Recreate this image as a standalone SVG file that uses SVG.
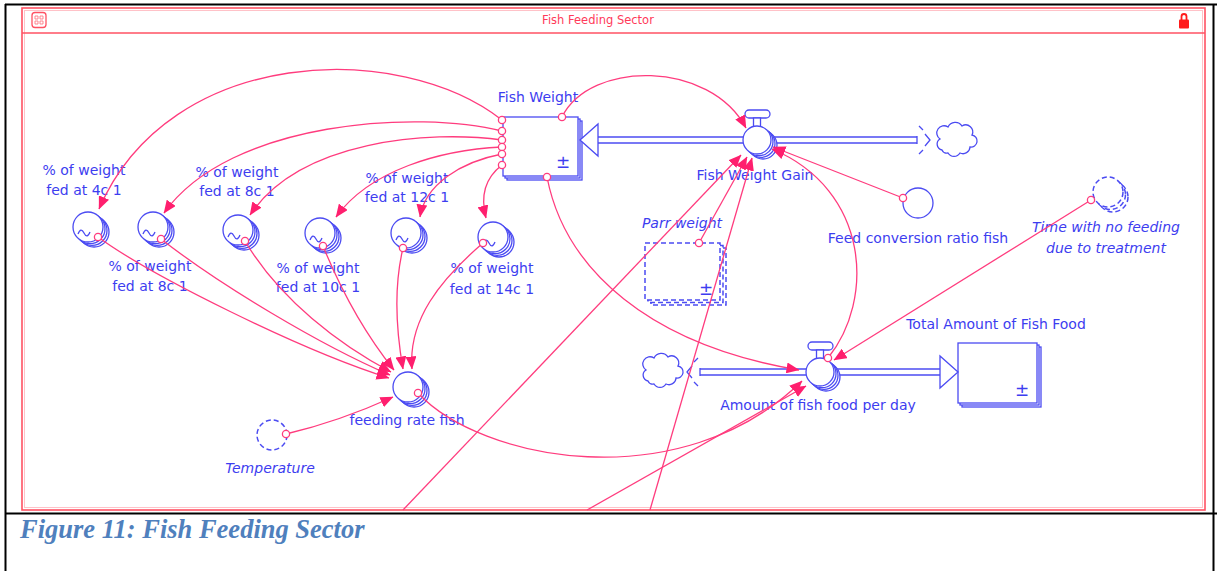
<svg xmlns="http://www.w3.org/2000/svg" xmlns:xlink="http://www.w3.org/1999/xlink" width="1217" height="571" viewBox="0 0 1217 571">
  <style>
    .lbl { font-family: "DejaVu Sans", "Liberation Sans", sans-serif; font-size: 14px; fill: #3d3df0; text-anchor: middle; }
    .it { font-style: italic; }
    .pm { font-family: "DejaVu Sans", sans-serif; font-size: 17px; fill: #3d3df0; text-anchor: middle; }
    .node { fill: #fff; stroke: #4b4bf2; stroke-width: 1.3; }
    .ghost { fill: #fff; stroke: #4b4bf2; stroke-width: 1.5; stroke-dasharray: 5 3; }
    .pipeO { fill: none; stroke: #4b4bf2; stroke-width: 7.5; }
    .pipeI { fill: none; stroke: #fff; stroke-width: 4.5; }
    .mark { fill: none; stroke: #4b4bf2; stroke-width: 1.3; }
    .link { fill: none; stroke: #ff3c7e; stroke-width: 1.3; }
    .arr { marker-end: url(#ah); }
    .org { fill: #fff; stroke: #ff3c7e; stroke-width: 1.3; }
    .frame { fill: none; stroke: #ff5263; stroke-width: 1.6; }
    .edge { fill: none; stroke: #000; stroke-width: 2; }
  </style>
  <defs>
    <marker id="ah" viewBox="0 0 13 11" refX="12.5" refY="5.5" markerWidth="13" markerHeight="11" markerUnits="userSpaceOnUse" orient="auto">
      <path d="M0,0 L13,5.5 L0,11 z" fill="#ff1f6e"/>
    </marker>
    <!-- converter array with graphical function wave -->
    <g id="convGf">
      <circle cx="6" cy="5" r="15" class="node"/>
      <circle cx="4" cy="3.4" r="15" class="node"/>
      <circle cx="2" cy="1.7" r="15" class="node"/>
      <circle cx="0" cy="0" r="15" class="node"/>
      <path d="M-10,7 c2,-5 4,-5 6,-1 s4,4 6,-1" class="mark"/>
    </g>
    <!-- plain converter array -->
    <g id="convArr">
      <circle cx="6" cy="5" r="15" class="node"/>
      <circle cx="4" cy="3.4" r="15" class="node"/>
      <circle cx="2" cy="1.7" r="15" class="node"/>
      <circle cx="0" cy="0" r="15" class="node"/>
    </g>
    <!-- flow valve with stacked body -->
    <g id="valve">
      <rect x="-12" y="-30" width="25" height="8" rx="4" class="node"/>
      <rect x="-3.5" y="-22" width="7" height="9" class="node"/>
      <circle cx="6" cy="5" r="14" class="node"/>
      <circle cx="4" cy="3.4" r="14" class="node"/>
      <circle cx="2" cy="1.7" r="14" class="node"/>
      <circle cx="0" cy="0" r="14" class="node"/>
    </g>
    <!-- cloud (source / sink) -->
    <path id="cloud" d="M-14,11 a6,6 0 0 1 -2,-11 a7,7 0 0 1 8,-12 a8,8 0 0 1 14,-1 a7,7 0 0 1 10,9 a6,6 0 0 1 -2,12 a7,7 0 0 1 -10,6 a7,7 0 0 1 -12,0 a5,5 0 0 1 -6,-3 z" class="node"/>
  </defs>

  <rect width="1217" height="571" fill="#fff"/>

  <!-- page border -->
  <path d="M5,4.5 H1217 M5.5,4 V571 M1213.5,4 V571 M5,513.5 H1217" class="edge"/>

  <!-- sector frame -->
  <g id="sector">
    <rect x="22" y="8" width="1183" height="502" class="frame"/>
    <rect x="24.5" y="10.5" width="1178" height="497" fill="none" stroke="#ffc2c8" stroke-width="1"/>
    <line x1="22" y1="33" x2="1205" y2="33" stroke="#ff5263" stroke-width="1.4"/>
    <rect x="32" y="12.5" width="14" height="15" rx="3" fill="none" stroke="#ff5263" stroke-width="1.3"/>
    <path d="M35,16 h3 v3 h-3 z M40,16 h3 v3 h-3 z M35,21 h3 v3 h-3 z M40,21 h3 v3 h-3 z" fill="none" stroke="#ff7a86" stroke-width="0.9"/>
    <text x="598" y="24" font-family="DejaVu Sans, sans-serif" font-size="11.5" fill="#ff3a5a" text-anchor="middle">Fish Feeding Sector</text>
    <path d="M1181.5,20 v-3.5 a2.5,2.5 0 0 1 5,0 v3.5" fill="none" stroke="#ff1a1a" stroke-width="1.8"/>
    <rect x="1179" y="19.5" width="10" height="9" rx="1" fill="#ff1a1a"/>
  </g>

  <!-- flow pipes -->
  <g id="pipes">
    <path d="M597,140 H917" class="pipeO"/>
    <path d="M597,140 H917" class="pipeI"/>
    <path d="M917,136 V144" class="mark"/>
    <path d="M919,126 l4,4 M925,134 l5,6 l-5,6 M919,154 l4,-4" class="mark"/>
    <path d="M700,372 H941" class="pipeO"/>
    <path d="M700,372 H941" class="pipeI"/>
    <path d="M700,368 V376" class="mark"/>
    <path d="M698,358 l-4,4 M692,366 l-5,6 l5,6 M698,386 l-4,-4" class="mark"/>
  </g>

  <g id="fish-weight">
    <rect x="507" y="121" width="75" height="59" class="node"/>
    <rect x="505" y="119" width="75" height="59" class="node"/>
    <rect x="503" y="117" width="75" height="59" class="node"/>
    <text x="563" y="168" class="pm">±</text>
    <text x="538" y="102" class="lbl">Fish Weight</text>
  </g>

  <g id="fish-weight-gain">
    <polygon points="580,140 598,124 598,156" class="node"/>
    <use xlink:href="#cloud" x="956" y="139"/>
    <use xlink:href="#valve" x="757" y="140"/>
    <text x="755" y="180" class="lbl">Fish Weight Gain</text>
  </g>

  <g id="feed-conversion-ratio">
    <circle cx="918" cy="203" r="15" class="node"/>
    <text x="918" y="243" class="lbl">Feed conversion ratio fish</text>
  </g>

  <g id="parr-weight">
    <rect x="651" y="248" width="75" height="57" class="ghost"/>
    <rect x="648" y="245.5" width="75" height="57" class="ghost"/>
    <rect x="645" y="243" width="75" height="57" class="ghost"/>
    <text x="706" y="295" class="pm">±</text>
    <text x="682" y="228" class="lbl it">Parr weight</text>
  </g>

  <g id="time-no-feeding">
    <circle cx="1113" cy="197" r="15" class="ghost"/>
    <circle cx="1110.5" cy="194.5" r="15" class="ghost"/>
    <circle cx="1108" cy="192" r="15" class="ghost"/>
    <text x="1106" y="232" class="lbl it">Time with no feeding</text>
    <text x="1106" y="253" class="lbl it">due to treatment</text>
  </g>

  <g id="total-fish-food">
    <rect x="962" y="347" width="79" height="60" class="node"/>
    <rect x="960" y="345" width="79" height="60" class="node"/>
    <rect x="958" y="343" width="79" height="60" class="node"/>
    <text x="1022" y="396" class="pm">±</text>
    <text x="996" y="329" class="lbl">Total Amount of Fish Food</text>
  </g>

  <g id="fish-food-per-day">
    <polygon points="958,372 940,356 940,388" class="node"/>
    <use xlink:href="#cloud" x="662" y="370"/>
    <use xlink:href="#valve" x="820" y="372"/>
    <text x="818" y="410" class="lbl">Amount of fish food per day</text>
  </g>

  <g id="fed-4c">
    <use xlink:href="#convGf" x="88" y="227"/>
    <text x="84" y="175" class="lbl">% of weight</text>
    <text x="84" y="195" class="lbl">fed at 4c 1</text>
  </g>
  <g id="fed-8c-low">
    <use xlink:href="#convGf" x="153" y="227"/>
    <text x="150" y="271" class="lbl">% of weight</text>
    <text x="150" y="291" class="lbl">fed at 8c 1</text>
  </g>
  <g id="fed-8c">
    <use xlink:href="#convGf" x="238" y="230"/>
    <text x="237" y="177" class="lbl">% of weight</text>
    <text x="237" y="196" class="lbl">fed at 8c 1</text>
  </g>
  <g id="fed-10c">
    <use xlink:href="#convGf" x="320" y="233"/>
    <text x="318" y="273" class="lbl">% of weight</text>
    <text x="318" y="292" class="lbl">fed at 10c 1</text>
  </g>
  <g id="fed-12c">
    <use xlink:href="#convGf" x="406" y="233"/>
    <text x="407" y="183" class="lbl">% of weight</text>
    <text x="407" y="202" class="lbl">fed at 12c 1</text>
  </g>
  <g id="fed-14c">
    <use xlink:href="#convGf" x="493" y="237"/>
    <text x="492" y="273" class="lbl">% of weight</text>
    <text x="492" y="294" class="lbl">fed at 14c 1</text>
  </g>

  <g id="feeding-rate">
    <use xlink:href="#convArr" x="408" y="387"/>
    <text x="407" y="425" class="lbl">feeding rate fish</text>
  </g>

  <g id="temperature">
    <circle cx="272" cy="435" r="15" class="ghost"/>
    <text x="270" y="473" class="lbl it">Temperature</text>
  </g>

  <!-- connectors -->
  <g id="connectors">
    <!-- Fish Weight to the feeding percentage tables -->
    <path d="M502,120 C400,40 170,45 99,209" class="link arr"/>
    <path d="M502,131 C420,110 230,120 164,213" class="link arr"/>
    <path d="M502,140 C430,130 300,140 250,215" class="link arr"/>
    <path d="M502,147 C440,150 370,170 336,217" class="link arr"/>
    <path d="M502,154 C460,162 425,185 420,217" class="link arr"/>
    <path d="M502,165 C485,178 480,195 486,218" class="link arr"/>
    <!-- Fish Weight to the flows -->
    <path d="M562,117 C590,60 710,60 746,128" class="link arr"/>
    <path d="M547,177 C565,270 650,345 799,370" class="link arr"/>
    <!-- tables to feeding rate -->
    <path d="M98,237 C150,275 300,350 389,378" class="link arr"/>
    <path d="M161,239 C220,285 320,345 390,375" class="link arr"/>
    <path d="M245,241 C280,300 340,345 391,372" class="link arr"/>
    <path d="M323,246 C345,300 370,340 394,370" class="link arr"/>
    <path d="M403,248 C393,290 397,335 403,369" class="link arr"/>
    <path d="M483,243 C440,280 408,320 412,369" class="link arr"/>
    <path d="M286,434 C320,426 360,412 393,397" class="link arr"/>
    <!-- feeding rate to daily food amount -->
    <path d="M418,393 C480,460 680,500 802,381" class="link arr"/>
    <path d="M587,510 L806,386" class="link arr"/>
    <!-- inputs to Fish Weight Gain -->
    <path d="M403,510 L741,155" class="link arr"/>
    <path d="M699,243 L747,157" class="link arr"/>
    <path d="M650,510 L752,158" class="link arr"/>
    <path d="M903,198 L773,147" class="link arr"/>
    <path d="M828,358 C875,300 870,190 772,149" class="link arr"/>
    <path d="M1091,200 L834,360" class="link arr"/>
    <!-- link origins -->
    <circle cx="502" cy="120" r="3.6" class="org"/>
    <circle cx="502" cy="131" r="3.6" class="org"/>
    <circle cx="502" cy="140" r="3.6" class="org"/>
    <circle cx="502" cy="147" r="3.6" class="org"/>
    <circle cx="502" cy="154" r="3.6" class="org"/>
    <circle cx="502" cy="165" r="3.6" class="org"/>
    <circle cx="562" cy="117" r="3.6" class="org"/>
    <circle cx="547" cy="177" r="3.6" class="org"/>
    <circle cx="98" cy="237" r="3.6" class="org"/>
    <circle cx="161" cy="239" r="3.6" class="org"/>
    <circle cx="245" cy="241" r="3.6" class="org"/>
    <circle cx="323" cy="246" r="3.6" class="org"/>
    <circle cx="403" cy="248" r="3.6" class="org"/>
    <circle cx="483" cy="243" r="3.6" class="org"/>
    <circle cx="286" cy="434" r="3.6" class="org"/>
    <circle cx="418" cy="393" r="3.6" class="org"/>
    <circle cx="699" cy="243" r="3.6" class="org"/>
    <circle cx="903" cy="198" r="3.6" class="org"/>
    <circle cx="828" cy="358" r="3.6" class="org"/>
    <circle cx="1091" cy="200" r="3.6" class="org"/>
  </g>

  <text x="20" y="538" font-family="Liberation Serif, serif" font-size="26.5" font-style="italic" font-weight="bold" fill="#4f80bd">Figure 11: Fish Feeding Sector</text>
</svg>
